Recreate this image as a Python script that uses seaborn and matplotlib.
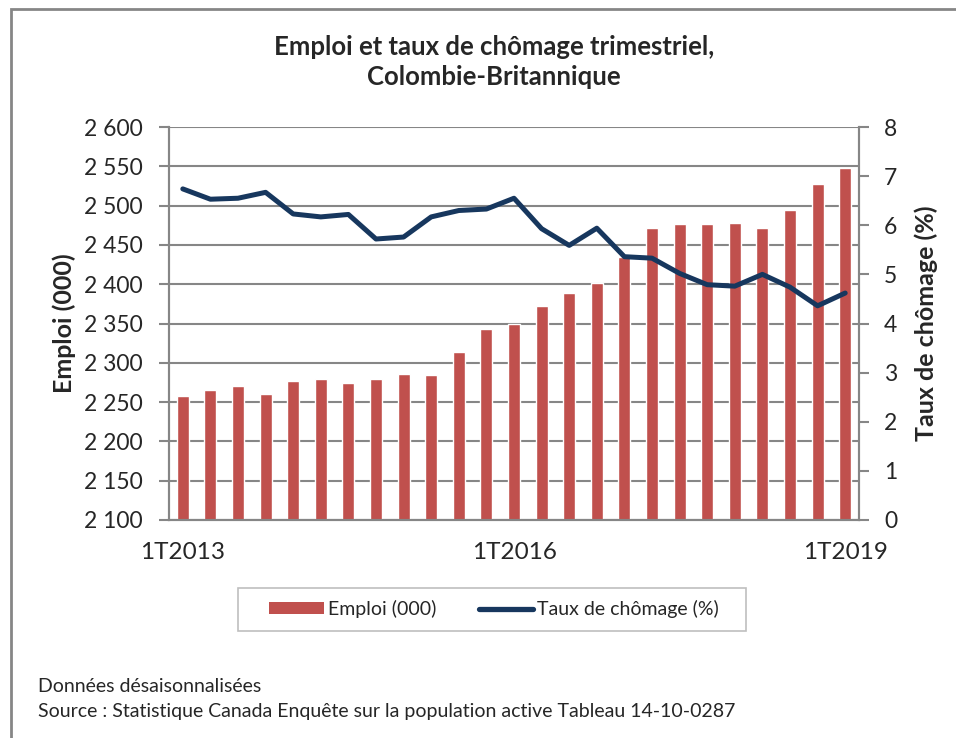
import numpy as np
import pandas as pd
import matplotlib.pyplot as plt
import seaborn as sns
from matplotlib.patches import Patch, Rectangle
from matplotlib.lines import Line2D
from matplotlib.ticker import FuncFormatter, MultipleLocator

# Données trimestrielles, 1T2013 à 1T2019
trimestres = [f"{q}T{a}" for a in range(2013, 2020) for q in range(1, 5)][:25]
emploi = [2258, 2266, 2270, 2260, 2277, 2279, 2274, 2280, 2286, 2285,
          2314, 2343, 2350, 2372, 2389, 2402, 2435, 2472, 2476, 2477,
          2478, 2471, 2494, 2528, 2548]
chomage = [6.74, 6.53, 6.55, 6.67, 6.23, 6.17, 6.22, 5.72, 5.76, 6.17,
           6.30, 6.33, 6.55, 5.93, 5.59, 5.94, 5.36, 5.33, 5.02, 4.79,
           4.76, 5.00, 4.74, 4.36, 4.62]
etiquettes = ["1T2013", "1T2016", "1T2019"]

df = pd.DataFrame({"trimestre": trimestres, "emploi": emploi, "chomage": chomage})
df["pos"] = np.arange(len(df))

sns.set_style("white")
plt.rcParams["font.family"] = ["Lato", "DejaVu Sans"]

rouge = "#C0504D"
bleu = "#17375E"
gris = "#868686"

fig = plt.figure(figsize=(9.56, 7.38), dpi=100)
ax = fig.add_axes([169 / 956, 1 - 520 / 738, 690 / 956, 393 / 738])

sns.barplot(data=df, x="trimestre", y="emploi", color=rouge, saturation=1,
            width=0.43, ax=ax, zorder=2)
ax.set_ylim(2100, 2600)
ax.set_xlim(-0.5, len(df) - 0.5)
ax.yaxis.set_major_locator(MultipleLocator(50))
ax.yaxis.set_major_formatter(FuncFormatter(lambda v, p: f"{int(v):,}".replace(",", " ")))
ax.grid(axis="y", color=gris, lw=1.5)
ax.set_axisbelow(True)

# étiquettes de l'axe des x tous les 12 trimestres, graduations entre les catégories
ax.set_xticks([trimestres.index(e) for e in etiquettes])
ax.set_xticklabels(etiquettes)
ax.set_xticks(np.arange(-0.5, len(df)), minor=True)
ax.tick_params(axis="x", which="major", length=0, labelsize=17.5, pad=16)
ax.tick_params(axis="x", which="minor", length=6, color=gris, width=1.5, direction="out")
ax.tick_params(axis="y", length=7, color=gris, width=1.5, labelsize=16.5, left=True, pad=12)
ax.set_xlabel("")
ax.set_ylabel("Emploi (000)", fontsize=18, fontweight="bold", labelpad=6)

ax2 = ax.twinx()
sns.lineplot(data=df, x="pos", y="chomage", color=bleu, lw=3.6, ax=ax2,
             solid_capstyle="round", solid_joinstyle="round")
ax2.set_ylim(0, 8)
ax2.set_xlim(-0.5, len(df) - 0.5)
ax2.yaxis.set_major_locator(MultipleLocator(1))
ax2.tick_params(axis="y", length=7, color=gris, width=1.5, labelsize=16.5, right=True, pad=11)
ax2.set_ylabel("Taux de chômage (%)", fontsize=18, fontweight="bold", labelpad=12)
ax2.set_xlabel("")

for a in (ax, ax2):
    a.spines["top"].set_visible(False)
    for s in ("left", "right", "bottom"):
        a.spines[s].set_color(gris)
        a.spines[s].set_linewidth(1.5)

fig.text(494 / 956, 1 - 62 / 738, "Emploi et taux de chômage trimestriel,\nColombie-Britannique",
         ha="center", va="center", fontsize=18.5, fontweight="bold", linespacing=1.3)

handles = [Patch(facecolor=rouge, edgecolor="none"),
           Line2D([0], [0], color=bleu, lw=3.8, solid_capstyle="round")]
leg = fig.legend(handles, ["Emploi (000)", "Taux de chômage (%)"], ncol=2,
                 loc="center", bbox_to_anchor=(494 / 956, 1 - 609 / 738),
                 fontsize=14, frameon=False, handlelength=2.8,
                 handleheight=0.6, columnspacing=2.2, handletextpad=0.2,
                 borderpad=0.6, borderaxespad=0)

# cadre de la légende
fig.patches.append(Rectangle((238 / 956, 1 - 631 / 738), 508 / 956, 43 / 738,
                             transform=fig.transFigure, fill=False,
                             edgecolor="#BFBFBF", lw=1.2))

fig.text(38 / 956, 1 - 686 / 738, "Données désaisonnalisées", fontsize=14, va="center")
fig.text(38 / 956, 1 - 712 / 738,
         "Source : Statistique Canada Enquête sur la population active Tableau 14-10-0287",
         fontsize=14, va="center")

# cadre du graphique
fig.patches.append(Rectangle((11 / 956, -0.05), 1.2, 1 - 9 / 738 + 0.05,
                             transform=fig.transFigure, fill=False,
                             edgecolor=gris, lw=2))

fig.savefig("out.png", dpi=100)
